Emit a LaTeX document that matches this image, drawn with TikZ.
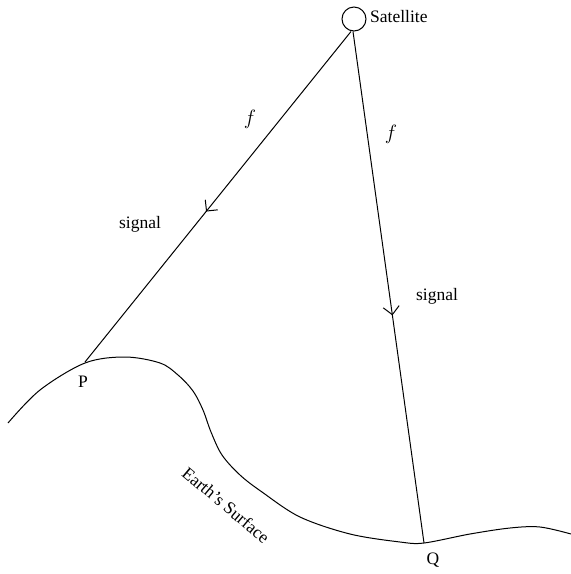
\documentclass[tikz,border=0pt]{standalone}
\usepackage{fontspec}
\setmainfont{Liberation Serif}
\usetikzlibrary{arrows.meta,decorations.markings}
\begin{document}
\begin{tikzpicture}[x=1pt,y=-1pt,
  lbl/.style={font=\fontsize{17.5}{20}\selectfont, inner sep=0pt},
  ray/.style={line width=1pt, postaction={decorate},
    decoration={markings, mark=at position #1 with {\arrow[line width=1pt]{Straight Barb[length=8pt,width=16pt]}}}},
  ground/.style={line width=1pt}]
\useasboundingbox (0,0) rectangle (571,574);
\node[circle, draw, line width=1pt, minimum size=24pt, inner sep=0pt] (sat) at (354,19) {};
\node[lbl, anchor=west] (satl) at (370,17) {Satellite};
\coordinate (P) at (85,362);
\coordinate (Q) at (424,543);
\draw[ground] plot[smooth, tension=0.55] coordinates {(8,423) (40,390) (85,363) (125,357) (160,363) (178,375) (193,391) (203,410) (211,432) (222,455) (240,475) (262,492) (300,517) (350,534) (400,542) (424,543) (470,534) (510,528) (540,527) (571,534)};
\draw[ray=0.545] (sat.south) ++(-3,0) coordinate (s1) -- (P);
\draw[ray=0.555] (sat.south) ++(-1,0) coordinate (s2) -- (Q);
\node[lbl, font=\fontsize{22}{24}\selectfont\itshape] (f1) at (250,119) {$f$};
\node[lbl, font=\fontsize{22}{24}\selectfont\itshape] (f2) at (391,134) {$f$};
\node[lbl] (sig1) at (140,224) {signal};
\node[lbl] (sig2) at (437,296) {signal};
\node[lbl] (Pl) at (83,382) {P};
\node[lbl] (Ql) at (433,560) {Q};
\node[lbl, rotate=-40] (earth) at (226,505) {Earth's Surface};
\end{tikzpicture}
\end{document}
